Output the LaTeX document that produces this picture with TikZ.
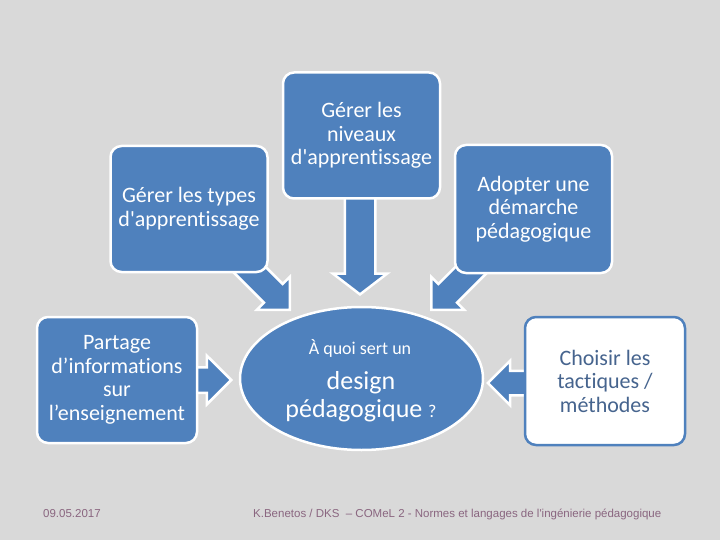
\documentclass[tikz,border=0pt]{standalone}
\usepackage{fontspec}
\setmainfont{Carlito}[Ligatures=NoCommon]
\newfontfamily\footfont{Liberation Sans}
\usetikzlibrary{shapes.geometric,shapes.arrows}
\definecolor{bluefill}{HTML}{4F81BD}
\definecolor{bggray}{HTML}{D9D9D9}
\definecolor{foottext}{HTML}{8A6680}
\definecolor{darktext}{HTML}{46648E}
\begin{document}
\begin{tikzpicture}[x=1pt,y=-1pt,
  box/.style={draw=white, line width=2.5pt, fill=bluefill, rounded corners=11pt,
    text=white, align=center, font=\fontsize{22}{23.5}\selectfont, inner sep=0pt,
    minimum width=157pt, minimum height=126pt},
  blk/.style={single arrow, draw=white, line width=2.5pt, fill=bluefill,
    inner xsep=0pt, single arrow head indent=0pt, single arrow tip angle=90,
    anchor=tip},
  ctext/.style={text=white, inner sep=0pt, anchor=base},
  foot/.style={text=foottext, font=\footfont\fontsize{11.5}{13}\selectfont, inner sep=0pt}
]
\fill[bggray] (0,0) rectangle (720,540);
\useasboundingbox (0,0) rectangle (720,540);

% block arrows (drawn first, boxes cover their tails)
\node[blk, rotate=-90, single arrow tip angle=105, minimum height=110pt,
  inner ysep=14pt, minimum width=52pt, single arrow head extend=12pt] (adown) at (360,296) {};
\node[blk, rotate=-45, minimum height=113pt, inner ysep=12pt, minimum width=44pt,
  single arrow head extend=10pt] (adl) at (291,311) {};
\node[blk, rotate=-135, minimum height=113pt, inner ysep=12pt, minimum width=44pt,
  single arrow head extend=10pt] (adr) at (430,311) {};
\node[blk, rotate=0, minimum height=45pt, inner ysep=11.5pt, minimum width=46pt,
  single arrow head extend=11.5pt] (aleft) at (233,380) {};
\node[blk, rotate=180, minimum height=45pt, inner ysep=11pt, minimum width=42pt,
  single arrow head extend=10pt] (aright) at (486,383) {};

% boxes
\node[box] (niveaux) at (361.5,135.5) {Gérer les\\niveaux\\d\textquotesingle apprentissage};
\node[box] (types) at (189,209) {Gérer les types\\d\textquotesingle apprentissage};
\node[box, minimum height=128pt] (adopter) at (533.5,209) {Adopter une\\démarche\\pédagogique};
\node[box, minimum width=160pt] (partage) at (117,380) {Partage\\d’informations\\sur\\l’enseignement};
\node[box, minimum width=160pt, minimum height=128pt, fill=white, draw=bluefill,
  text=darktext] (choisir) at (605,381) {Choisir les\\tactiques /\\méthodes};

% central ellipse
\node[ellipse, draw=white, line width=2.5pt, fill=bluefill,
  minimum width=243pt, minimum height=143pt, inner sep=0pt]
  (centre) at (361.5,378.5) {};
\node[ctext, font=\fontsize{18}{20}\selectfont] (c1) at (360,354) {À quoi sert un};
\node[ctext, font=\fontsize{26}{28}\selectfont] (c2) at (361,389) {design};
\node[ctext, font=\fontsize{26}{28}\selectfont] (c3) at (361,417)
  {pédagogique {\fontsize{18}{20}\selectfont ?}};

% footer
\node[foot, anchor=west] (date) at (43,514) {09.05.2017};
\node[foot, anchor=west] (credit) at (253,514)
  {K.Benetos / DKS \ – COMeL 2 - Normes et langages de l'ingénierie pédagogique};
\end{tikzpicture}
\end{document}
